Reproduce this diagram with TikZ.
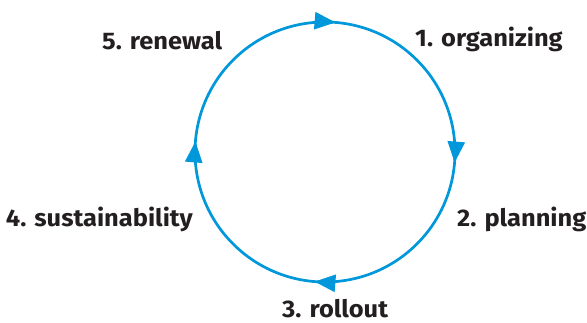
\documentclass[tikz,border=0pt]{standalone}
\usepackage{fontspec}
\setmainfont[FakeStretch=1.06]{Fira Sans}
\usetikzlibrary{arrows.meta,decorations.markings}
\definecolor{cycleblue}{RGB}{0,152,218}
\definecolor{labelgray}{RGB}{35,31,32}
\def\cycr{130}

\tikzset{
	phase/.style={font=\bfseries\fontsize{24}{26}\selectfont, text=labelgray, inner sep=0pt},
	cycle/.style={cycleblue, line width=2.7pt, postaction={decorate},
		decoration={markings, mark=between positions 0.138 and 0.9 step 0.25 with {\arrow{Triangle[length=21pt,width=17pt]}}}}
}

\begin{document}
\begin{tikzpicture}[x=1pt,y=1pt]
				\useasboundingbox (0,0) rectangle (587,323);
				
				\coordinate (hub) at (325,171);
				\draw[cycle] (hub) ++(135:\cycr) arc (135:-225:\cycr);
				
				\node[phase, anchor=base west] (organizing) at (415,276) {1. organizing};
				\node[phase, anchor=base west] (planning) at (457,96) {2. planning};
				\node[phase, anchor=base west] (rollout) at (282,5) {3. rollout};
				\node[phase, anchor=base east] (sustainability) at (193,96) {4. sustainability};
				\node[phase, anchor=base west] (renewal) at (102,273) {5. renewal};
			\end{tikzpicture}
\end{document}
